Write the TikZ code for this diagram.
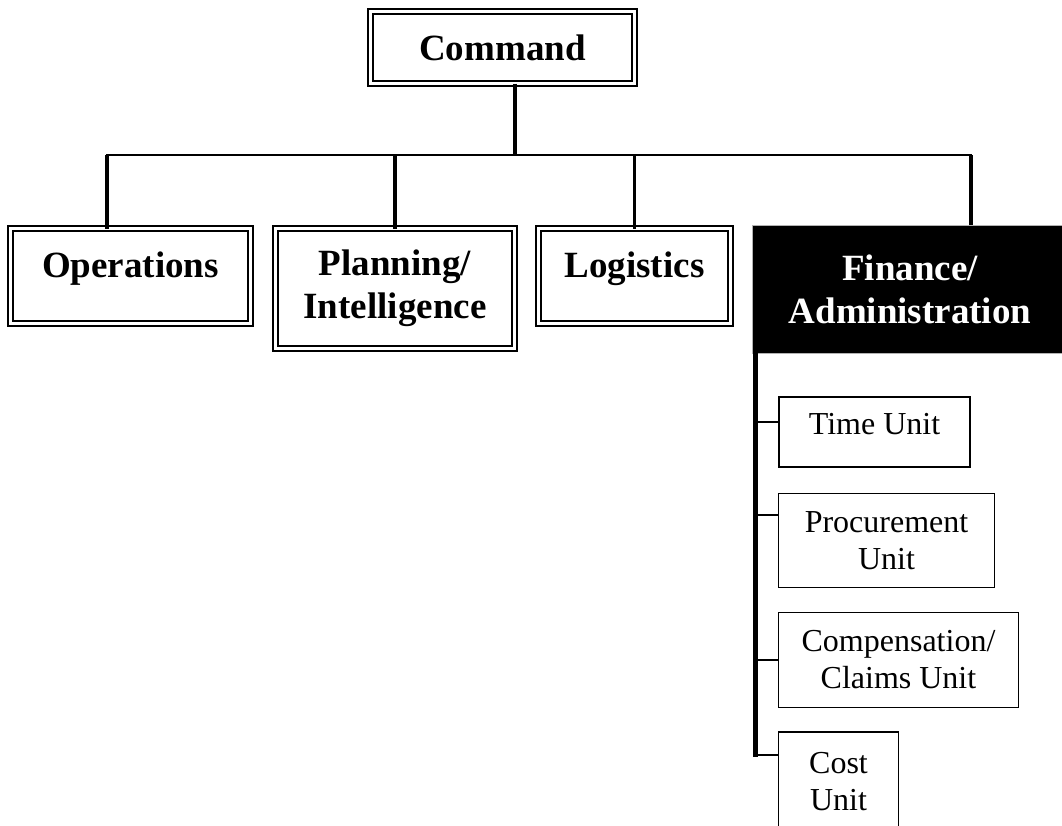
\documentclass[tikz,border=0pt]{standalone}
\usepackage{fontspec}
\setmainfont{Liberation Serif}
\usetikzlibrary{calc}
\newcommand{\headfont}{\fontsize{27.75}{32.25}\selectfont\bfseries}
\newcommand{\unitfont}{\fontsize{24}{27.75}\selectfont}
\tikzset{
    head/.style={draw, double, line width=1.4pt, double distance=2.6pt, inner sep=0pt, outer sep=0pt, align=center, font=\headfont},
    headone/.style={head, text height=0.7em, text depth=0.45em},
    finbox/.style={fill=black, draw=gray!60, line width=0.6pt, text=white, inner sep=0pt, outer sep=0pt, align=center, font=\headfont},
    unitbox/.style={draw, line width=1.2pt, inner sep=0pt, outer sep=0pt, align=center, font=\unitfont},
    unitone/.style={unitbox, text height=0.7em, text depth=0.3em},
    link/.style={line width=2.7pt},
    busline/.style={line width=2pt, line cap=rect},
    trunk/.style={line width=3.1pt, line cap=rect},
    branch/.style={line width=2.1pt}
}
\begin{document}
\begin{tikzpicture}[x=0.75pt,y=-0.75pt]
    \path[use as bounding box, clip] (0,0) rectangle (1062,825);

    % top level
    \node[head, minimum width=198pt, minimum height=54pt] (cmd) at (502.5,47.5) {Command};

    % sections
    \node[headone, minimum width=180pt, minimum height=71pt] (ops) at (130.5,276) {Operations};
    \node[head, minimum width=179pt, minimum height=90pt] (plan) at (395,288.5) {Planning/\\Intelligence};
    \node[headone, minimum width=144pt, minimum height=71pt] (log) at (634.5,276) {Logistics};
    \node[finbox, minimum width=237pt, minimum height=96pt] (fin) at (910,289) {Finance/\\Administration};

    % units
    \node[unitone, minimum width=143pt, minimum height=52.5pt] (tu) at (874.5,432) {Time Unit};
    \node[unitbox, minimum width=162pt, minimum height=70.5pt] (pu) at (886.5,540.5) {Procurement\\Unit};
    \node[unitbox, minimum width=180pt, minimum height=71pt] (cu) at (898.5,660) {Compensation/\\Claims Unit};
    \node[unitbox, minimum width=90pt, minimum height=75pt] (cost) at (838.5,782) {Cost\\Unit};

    % command to sections
    \coordinate (bus) at (515,155);
    \coordinate (opsdrop) at ($(ops.north)+(-23.5,0)$);
    \coordinate (findrop) at ($(fin.north)+(61,0)$);
    \draw[link] (cmd.south -| bus) -- (bus);
    \draw[busline] (opsdrop |- bus) -- (findrop |- bus);
    \draw[link] (opsdrop) -- (opsdrop |- bus);
    \draw[link] (plan.north) -- (plan.north |- bus);
    \draw[link] (log.north) -- (log.north |- bus);
    \draw[link] (findrop) -- (findrop |- bus);

    % finance units
    \coordinate (trk) at ($(fin.south west)+(3.5,0)$);
    \draw[trunk] (trk) -- ($(trk |- cost.west)+(0,-27)$);
    \foreach \n/\dy in {tu/-10,pu/-25.5,cu/0,cost/-27}{
        \draw[branch] ($(\n.west)+(0,\dy)$) coordinate (b) -- (b -| trk);
    }
\end{tikzpicture}
\end{document}
